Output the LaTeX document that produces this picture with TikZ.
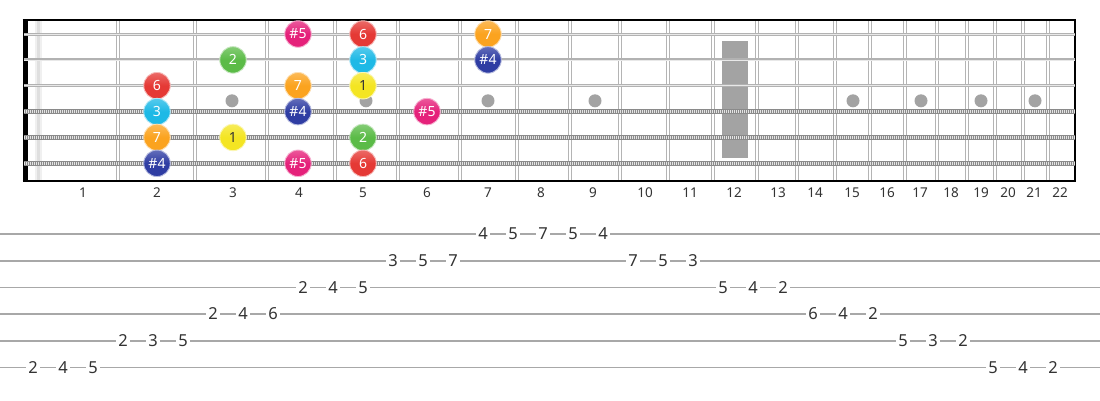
\documentclass[tikz,border=0pt]{standalone}
\usepackage{fontspec}
\setmainfont{Noto Sans}
\definecolor{nred}{HTML}{E53935}
\definecolor{ncyan}{HTML}{1EB9E6}
\definecolor{norange}{HTML}{FBA31F}
\definecolor{nblue}{HTML}{2F3DA3}
\definecolor{ngreen}{HTML}{5BBB47}
\definecolor{nyellow}{HTML}{F4E522}
\definecolor{npink}{HTML}{E5217A}
\definecolor{fretgray}{HTML}{B4B4B4}
\definecolor{stringgray}{HTML}{B2B2B2}
\definecolor{woundgray}{HTML}{8A8A8A}
\definecolor{inlaygray}{HTML}{A3A3A3}
\definecolor{tabgray}{HTML}{A8A8A8}
\definecolor{txtgray}{HTML}{333333}
\tikzset{
  notedot/.style={circle, minimum size=26.5pt, inner sep=0pt,
    top color=#1!75!white, bottom color=#1, middle color=#1,
    draw=#1!35!white, line width=0.9pt, text=white,
    font=\fontsize{14}{16}\selectfont},
  fretline/.style={draw=fretgray, line width=1.2pt},
  plainstring/.style={draw=stringgray, line width=3pt},
  woundstring/.style={draw=woundgray, line width=4.4pt},
  woundtex/.style={draw=white!78!gray, line width=2.4pt, dash pattern=on 1pt off 1pt},
  fretnum/.style={text=txtgray, font=\fontsize{13.5}{15}\selectfont, inner sep=0pt},
  tabnum/.style={text=txtgray, fill=white, inner sep=2.5pt, font=\fontsize{16.5}{18}\selectfont},
  tabline/.style={draw=tabgray, line width=1.6pt},
  inlay/.style={circle, fill=inlaygray, minimum size=13pt, inner sep=0pt}
}
\begin{document}
\begin{tikzpicture}[x=1pt,y=-1pt]
\useasboundingbox (0,0) rectangle (1100,400);
\fill[white] (0,0) rectangle (1100,400);
% light bar near nut
\fill[white!88!gray] (34.5,20) rectangle (41.5,180);
\draw[white!75!gray, line width=2.5pt] (38.3,20) -- (38.3,180);
% frets
\foreach \fx [count=\i] in {118,195,267,335,398,460,517,570,620,668,713,757,797,835,870,905,937,967,995,1023,1048} {
  \draw[fretline] (\fx-1.6,20) -- (\fx-1.6,180);
  \draw[fretline] (\fx+1.6,20) -- (\fx+1.6,180);
}
% inlays
\foreach \ix [count=\i] in {232,366,488,595,853,921,981,1035} {
  \node[inlay] (dot\i) at (\ix,100.8) {};
}
\fill[inlaygray] (722,41) rectangle (748,158);
% borders
\fill[black] (22.5,19) rectangle (27.5,181.5);
\draw[black, line width=2pt] (22.5,20) -- (1076,20);
\draw[black, line width=2pt] (22.5,180.5) -- (1076,180.5);
\draw[black, line width=2pt] (1075,19) -- (1075,181.5);
% strings
\foreach \sy in {34,59.9,85.7} {
  \draw[plainstring] (24,\sy) -- (1075,\sy);
  \draw[white!82!gray, line width=0.8pt] (24,\sy) -- (1075,\sy);
}
\foreach \sy in {111.6,137.4,163.3} {
  \draw[woundstring] (24,\sy) -- (1075,\sy);
  \draw[woundtex] (24,\sy) -- (1075,\sy);
}
% fret numbers
\foreach \lx [count=\i] in {83,157,233,299,363,427,488,541,593,645,690,734,778,815,852,887,920,951,981,1008,1034,1060} {
  \node[fretnum] (fn\i) at (\lx,193) {\i};
}
% notes
\foreach \nx/\ny/\nl/\nc [count=\i] in {
  298/34/\#5/npink, 363/34/6/nred, 488/34/7/norange,
  233/59.9/2/ngreen, 363/59.9/3/ncyan, 488/59.9/\#4/nblue,
  157/85.7/6/nred, 298/85.7/7/norange,
  157/111.6/3/ncyan, 298/111.6/\#4/nblue, 427/111.6/\#5/npink,
  157/137.4/7/norange, 363/137.4/2/ngreen,
  157/163.3/\#4/nblue, 298/163.3/\#5/npink, 363/163.3/6/nred} {
  \node[notedot=\nc] (note\i) at (\nx,\ny) {\nl};
}
\node[notedot=nyellow, text=txtgray] (yel1) at (363,85.7) {1};
\node[notedot=nyellow, text=txtgray] (yel2) at (233,137.4) {1};
% tab lines
\foreach \ty [count=\i] in {234,260.7,287.3,314,340.7,367.3} {
  \draw[tabline] (0,\ty) -- (1100,\ty);
}
% tab numbers
\foreach \k/\ty/\v in {
  0/367.3/2, 1/367.3/4, 2/367.3/5,
  3/340.7/2, 4/340.7/3, 5/340.7/5,
  6/314/2, 7/314/4, 8/314/6,
  9/287.3/2, 10/287.3/4, 11/287.3/5,
  12/260.7/3, 13/260.7/5, 14/260.7/7,
  15/234/4, 16/234/5, 17/234/7, 18/234/5, 19/234/4,
  20/260.7/7, 21/260.7/5, 22/260.7/3,
  23/287.3/5, 24/287.3/4, 25/287.3/2,
  26/314/6, 27/314/4, 28/314/2,
  29/340.7/5, 30/340.7/3, 31/340.7/2,
  32/367.3/5, 33/367.3/4, 34/367.3/2} {
  \node[tabnum] (tab\k) at (33+30*\k,\ty) {\v};
}
\end{tikzpicture}
\end{document}
